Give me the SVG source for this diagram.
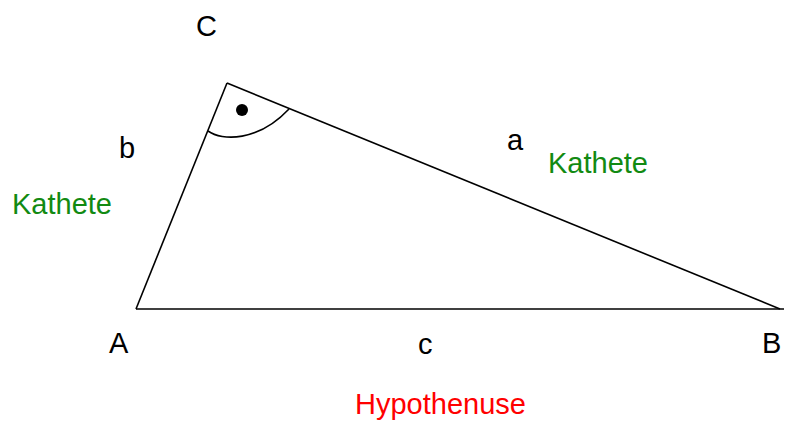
<svg xmlns="http://www.w3.org/2000/svg" width="785" height="421" viewBox="0 0 785 421">
<style>
text{font-family:"Liberation Sans",Arial,sans-serif;font-size:29px}
.lbl{fill:#000}
.kat{fill:#128a12}
.hyp{fill:#ff0000}
.side{stroke:#000;stroke-width:1.6;fill:none}
</style>
<rect width="785" height="421" fill="#fff"/>
<g id="connectors">
<line class="side" x1="136" y1="309" x2="227" y2="83"/>
<line class="side" x1="227" y1="83" x2="780" y2="309"/>
<line class="side" x1="136" y1="309" x2="784" y2="309"/>
<path class="side" d="M208,131 C222,141 258,142 289,109"/>
<circle cx="242" cy="110" r="6" fill="#000"/>
</g>
<g id="A"><text class="lbl" x="109" y="353">A</text></g>
<g id="B"><text class="lbl" x="762" y="353">B</text></g>
<g id="C"><text class="lbl" x="196" y="36">C</text></g>
<g id="side-a"><text class="lbl" x="507" y="150">a</text><text class="kat" x="548" y="173">Kathete</text></g>
<g id="side-b"><text class="lbl" x="119" y="158">b</text><text class="kat" x="12" y="214">Kathete</text></g>
<g id="side-c"><text class="lbl" x="418" y="354">c</text><text class="hyp" x="355" y="414">Hypothenuse</text></g>
</svg>
